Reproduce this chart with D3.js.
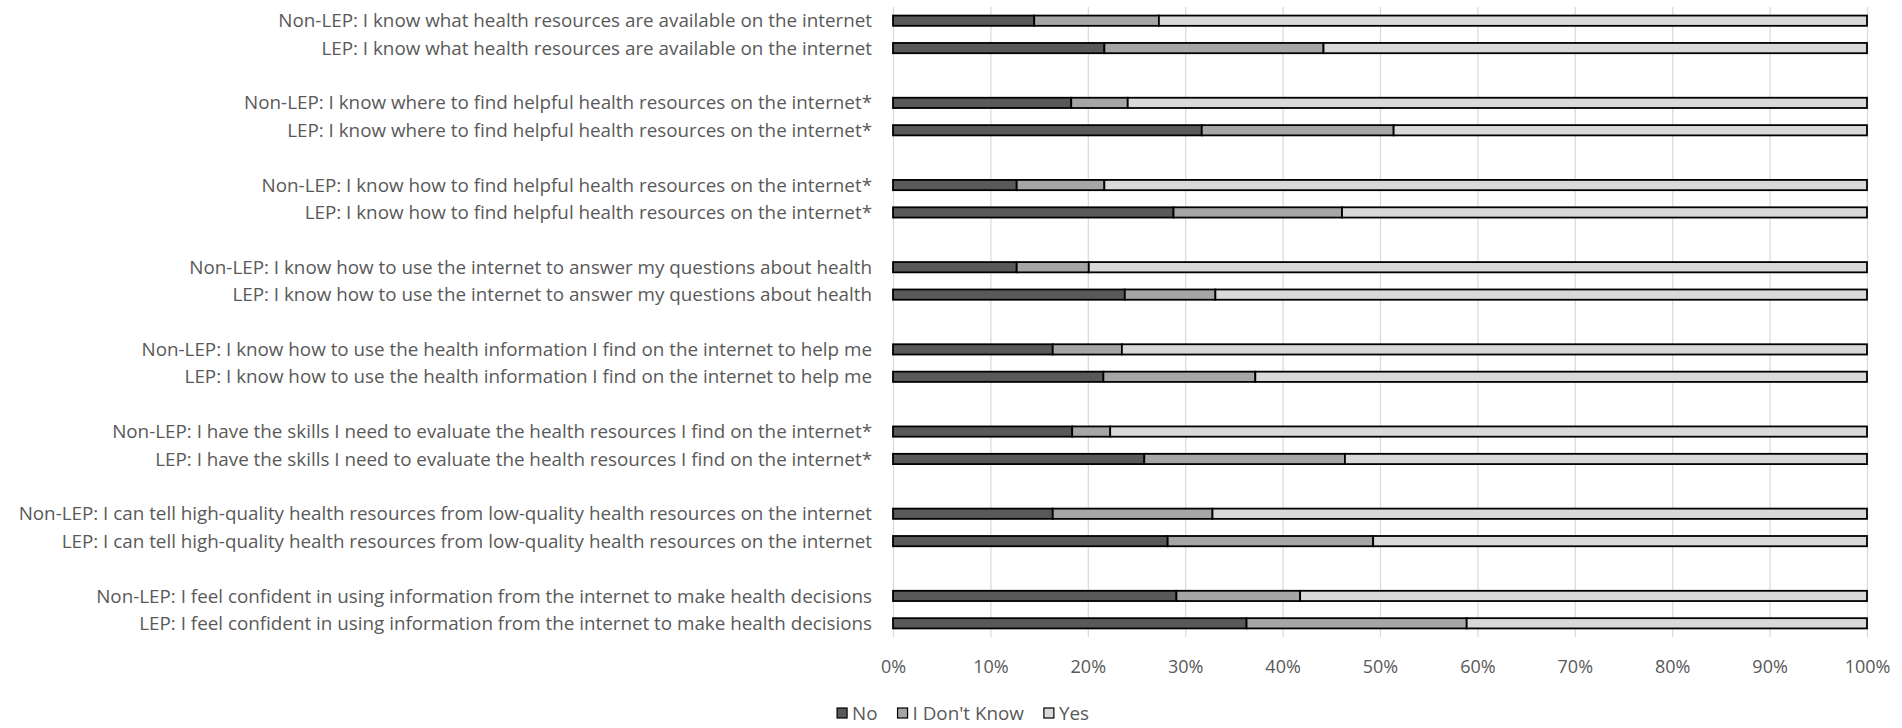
<!DOCTYPE html>
<html>
<head>
<meta charset="utf-8">
<script src="https://cdn.jsdelivr.net/npm/d3@7"></script>
<style>
  body { margin: 0; background: #fff; }
  svg { display: block; }
  text { font-family: "Open Sans", sans-serif; fill: #595959; }
</style>
</head>
<body>
<div id="chart"></div>
<script>
var categories = [
  'Non-LEP: I know what health resources are available on the internet',
  'LEP: I know what health resources are available on the internet',
  'Non-LEP: I know where to find helpful health resources on the internet*',
  'LEP: I know where to find helpful health resources on the internet*',
  'Non-LEP: I know how to find helpful health resources on the internet*',
  'LEP: I know how to find helpful health resources on the internet*',
  'Non-LEP: I know how to use the internet to answer my questions about health',
  'LEP: I know how to use the internet to answer my questions about health',
  'Non-LEP: I know how to use the health information I find on the internet to help me',
  'LEP: I know how to use the health information I find on the internet to help me',
  'Non-LEP: I have the skills I need to evaluate the health resources I find on the internet*',
  'LEP: I have the skills I need to evaluate the health resources I find on the internet*',
  'Non-LEP: I can tell high-quality health resources from low-quality health resources on the internet',
  'LEP: I can tell high-quality health resources from low-quality health resources on the internet',
  'Non-LEP: I feel confident in using information from the internet to make health decisions',
  'LEP: I feel confident in using information from the internet to make health decisions'
];
var seriesNames = ['No', "I Don't Know", 'Yes'];
var noPct       = [14.5, 21.7, 18.3, 31.7, 12.7, 28.8, 12.7, 23.8, 16.4, 21.6, 18.4, 25.8, 16.4, 28.2, 29.1, 36.3];
var dontKnowPct = [12.8, 22.5,  5.8, 19.7,  9.0, 17.3,  7.4,  9.3,  7.1, 15.6,  3.9, 20.6, 16.4, 21.1, 12.7, 22.6];
var yesPct      = [72.7, 55.8, 75.9, 48.6, 78.3, 53.9, 79.9, 66.9, 76.5, 62.8, 77.7, 53.6, 67.2, 50.7, 58.2, 41.1];
var xTicks = [0, 10, 20, 30, 40, 50, 60, 70, 80, 90, 100];

var colors = ['#595959', '#a6a6a6', '#d9d9d9'];

var width = 1902, height = 728;
var plotLeft = 893, plotRight = 1867, plotTop = 7, plotBottom = 637;

// rows with an empty slot between each Non-LEP / LEP pair
var rows = [];
categories.forEach(function(c, i){
  rows.push(c);
  if(i % 2 == 1 && i < categories.length - 1) rows.push('gap' + i);
});

var table = categories.map(function(c, i){
  return { cat: c, 'No': noPct[i], "I Don't Know": dontKnowPct[i], 'Yes': yesPct[i] };
});
var stacked = d3.stack().keys(seriesNames)(table);

var svg = d3.select('#chart').append('svg')
  .attr('width', width)
  .attr('height', height);

var xScale = d3.scaleLinear().domain([0, 100]).range([plotLeft, plotRight]);
var yScale = d3.scaleBand().domain(rows).range([plotTop, plotBottom])
  .paddingInner(0.56).paddingOuter(0.28);

// gridlines + tick labels
var xAxis = d3.axisBottom(xScale)
  .tickValues(xTicks)
  .tickFormat(function(d){ return d + '%'; })
  .tickSize(-(plotBottom - plotTop))
  .tickPadding(23);

var axisG = svg.append('g')
  .attr('transform', 'translate(0,' + plotBottom + ')')
  .call(xAxis);
axisG.select('.domain').remove();
axisG.selectAll('line').attr('stroke', '#d9d9d9').attr('stroke-width', 1.2);
axisG.attr('font-family', null).attr('font-size', null);
axisG.selectAll('text').style('font-size', '18px').style('fill', '#595959');

// bars
svg.append('g')
  .selectAll('g')
  .data(stacked)
  .enter()
  .append('g')
  .attr('fill', function(d, i){ return colors[i]; })
  .selectAll('rect')
  .data(function(d){ return d; })
  .enter()
  .append('rect')
  .attr('x', function(d){ return xScale(d[0]); })
  .attr('y', function(d){ return yScale(d.data.cat) + 0.9; })
  .attr('width', function(d){ return xScale(d[1]) - xScale(d[0]); })
  .attr('height', yScale.bandwidth() - 1.8)
  .attr('stroke', '#000')
  .attr('stroke-width', 1.8);

// category labels
var labels = svg.append('g')
  .selectAll('text')
  .data(categories)
  .enter()
  .append('text')
  .attr('x', 872)
  .attr('y', function(d){ return yScale(d) + yScale.bandwidth() / 2; })
  .attr('dy', '0.35em')
  .attr('text-anchor', 'end')
  .style('font-size', '17px')
  .text(function(d){ return d; });

// fit longest label into the space left of the plot
var maxW = 0;
labels.each(function(){ maxW = Math.max(maxW, this.getComputedTextLength()); });
var fs = 17 * 854 / maxW;
labels.style('font-size', fs + 'px');

// legend
var legend = svg.append('g');
var items = legend.selectAll('g')
  .data(seriesNames)
  .enter()
  .append('g');
items.append('rect')
  .attr('width', 10)
  .attr('height', 10)
  .attr('y', -5)
  .attr('fill', function(d, i){ return colors[i]; })
  .attr('stroke', '#000')
  .attr('stroke-width', 1.2);
items.append('text')
  .attr('x', 15)
  .attr('dy', '0.35em')
  .style('font-size', fs + 'px')
  .text(function(d){ return d; });

var pos = 0;
items.each(function(){
  d3.select(this).attr('transform', 'translate(' + pos + ',0)');
  pos += 15 + this.querySelector('text').getComputedTextLength() + 20;
});
pos -= 20;
legend.attr('transform', 'translate(' + (963 - pos / 2) + ',713)');
</script>
</body>
</html>
